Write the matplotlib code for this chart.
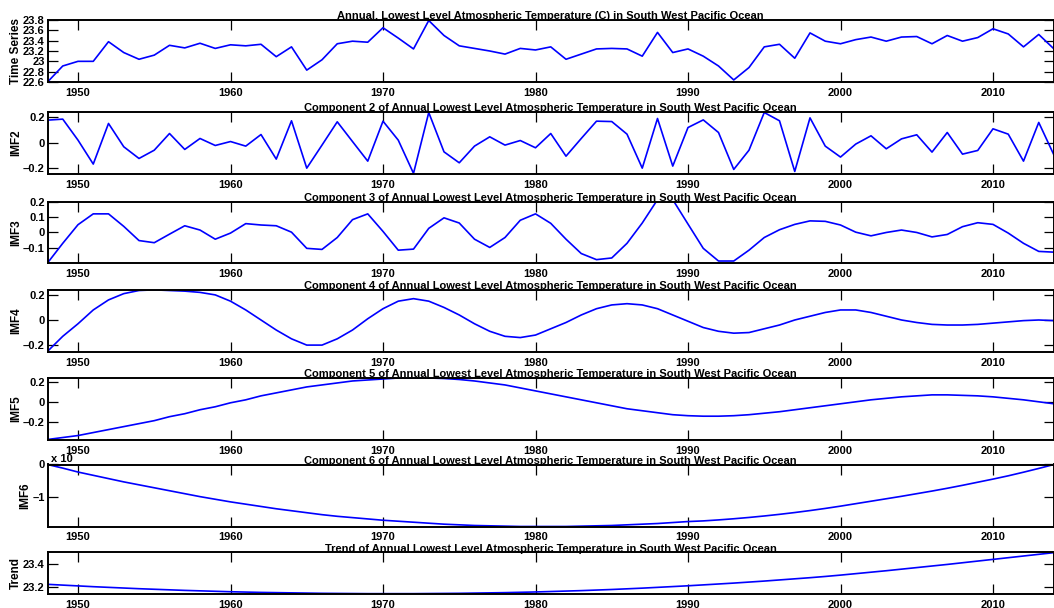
import numpy as np
import matplotlib
matplotlib.use("Agg")
import matplotlib.pyplot as plt
from matplotlib.ticker import FuncFormatter

plt.rcParams["font.family"] = ["Liberation Sans", "DejaVu Sans"]
plt.rcParams["font.weight"] = "bold"

years = list(range(1948, 2015))

temperature = [22.60, 22.91, 23.00, 23.00, 23.38, 23.17, 23.04, 23.12, 23.31, 23.26,
               23.35, 23.25, 23.32, 23.30, 23.33, 23.09, 23.28, 22.83, 23.03, 23.34,
               23.39, 23.37, 23.65, 23.45, 23.24, 23.79, 23.50, 23.30, 23.25, 23.20,
               23.14, 23.25, 23.22, 23.28, 23.04, 23.14, 23.24, 23.25, 23.24, 23.10,
               23.56, 23.17, 23.24, 23.10, 22.91, 22.64, 22.88, 23.28, 23.33, 23.06,
               23.55, 23.39, 23.34, 23.42, 23.47, 23.39, 23.47, 23.48, 23.34, 23.50,
               23.39, 23.46, 23.63, 23.53, 23.28, 23.52, 23.24]

imf2 = [0.178, 0.186, 0.021, -0.167, 0.152, -0.031, -0.123, -0.058, 0.073, -0.052,
        0.034, -0.021, 0.010, -0.026, 0.065, -0.128, 0.173, -0.199, -0.018, 0.165,
        0.010, -0.144, 0.170, 0.021, -0.240, 0.238, -0.071, -0.157, -0.026, 0.047,
        -0.018, 0.018, -0.039, 0.073, -0.105, 0.034, 0.170, 0.167, 0.068, -0.199,
        0.191, -0.183, 0.120, 0.180, 0.081, -0.209, -0.058, 0.238, 0.173, -0.225,
        0.196, -0.026, -0.112, -0.010, 0.055, -0.047, 0.031, 0.063, -0.073, 0.081,
        -0.089, -0.060, 0.110, 0.068, -0.144, 0.160, -0.097]

imf3 = [-0.200, -0.071, 0.051, 0.122, 0.122, 0.040, -0.053, -0.067, -0.011, 0.044,
        0.016, -0.044, -0.004, 0.058, 0.049, 0.044, 0.002, -0.104, -0.111, -0.033,
        0.084, 0.122, 0.007, -0.116, -0.109, 0.027, 0.096, 0.062, -0.044, -0.098,
        -0.033, 0.080, 0.122, 0.060, -0.044, -0.138, -0.178, -0.167, -0.071, 0.062,
        0.215, 0.215, 0.055, -0.104, -0.187, -0.187, -0.116, -0.033, 0.018, 0.053,
        0.076, 0.073, 0.049, 0.002, -0.022, 0.000, 0.016, 0.000, -0.029, -0.013,
        0.038, 0.064, 0.053, -0.004, -0.071, -0.124, -0.129]

imf4 = [-0.250, -0.130, -0.030, 0.080, 0.160, 0.210, 0.235, 0.240, 0.235, 0.230,
        0.220, 0.200, 0.150, 0.080, 0.000, -0.080, -0.150, -0.200, -0.200, -0.150,
        -0.080, 0.010, 0.090, 0.150, 0.170, 0.150, 0.100, 0.040, -0.030, -0.090,
        -0.130, -0.140, -0.120, -0.070, -0.020, 0.040, 0.090, 0.120, 0.130, 0.120,
        0.090, 0.040, -0.010, -0.060, -0.090, -0.105, -0.100, -0.070, -0.040, 0.000,
        0.030, 0.060, 0.080, 0.080, 0.060, 0.030, 0.000, -0.020, -0.035, -0.040,
        -0.040, -0.035, -0.025, -0.015, -0.005, 0.000, -0.005]

imf5 = [-0.380, -0.360, -0.340, -0.310, -0.280, -0.250, -0.220, -0.190, -0.150, -0.120,
        -0.080, -0.050, -0.010, 0.020, 0.060, 0.090, 0.120, 0.150, 0.170, 0.190,
        0.210, 0.220, 0.230, 0.240, 0.240, 0.240, 0.235, 0.225, 0.210, 0.190,
        0.170, 0.140, 0.110, 0.080, 0.050, 0.020, -0.010, -0.040, -0.070, -0.090,
        -0.110, -0.130, -0.140, -0.145, -0.145, -0.140, -0.130, -0.115, -0.100, -0.080,
        -0.060, -0.040, -0.020, 0.000, 0.020, 0.035, 0.050, 0.060, 0.070, 0.070,
        0.065, 0.060, 0.050, 0.035, 0.020, 0.000, -0.020]

imf6 = [0.00, -0.11, -0.23, -0.33, -0.43, -0.53, -0.62, -0.71, -0.80, -0.89,
        -0.98, -1.06, -1.14, -1.21, -1.28, -1.35, -1.41, -1.47, -1.53, -1.58,
        -1.62, -1.66, -1.70, -1.73, -1.76, -1.79, -1.82, -1.84, -1.86, -1.87,
        -1.88, -1.89, -1.89, -1.89, -1.89, -1.88, -1.87, -1.86, -1.84, -1.82,
        -1.80, -1.77, -1.74, -1.72, -1.69, -1.655, -1.615, -1.57, -1.52, -1.465,
        -1.405, -1.34, -1.27, -1.195, -1.12, -1.045, -0.97, -0.89, -0.81, -0.725,
        -0.635, -0.54, -0.445, -0.345, -0.235, -0.12, 0.00]

trend = [23.222, 23.215, 23.208, 23.201, 23.195, 23.189, 23.183, 23.178, 23.173, 23.168,
         23.164, 23.160, 23.156, 23.153, 23.150, 23.148, 23.146, 23.144, 23.142, 23.141,
         23.140, 23.139, 23.139, 23.139, 23.139, 23.140, 23.141, 23.142, 23.144, 23.146,
         23.148, 23.151, 23.154, 23.158, 23.162, 23.166, 23.171, 23.176, 23.182, 23.188,
         23.195, 23.202, 23.209, 23.217, 23.225, 23.233, 23.242, 23.251, 23.261, 23.271,
         23.281, 23.292, 23.304, 23.317, 23.330, 23.343, 23.357, 23.371, 23.385, 23.399,
         23.414, 23.429, 23.444, 23.459, 23.474, 23.489, 23.504]

region = "South West Pacific Ocean"
titles = [
    f"Annual, Lowest Level Atmospheric Temperature (C) in {region}",
    f"Component 2 of Annual Lowest Level Atmospheric Temperature in {region}",
    f"Component 3 of Annual Lowest Level Atmospheric Temperature in {region}",
    f"Component 4 of Annual Lowest Level Atmospheric Temperature in {region}",
    f"Component 5 of Annual Lowest Level Atmospheric Temperature in {region}",
    f"Component 6 of Annual Lowest Level Atmospheric Temperature in {region}",
    f"Trend of Annual Lowest Level Atmospheric Temperature in {region}",
]
ylabels = ["Time Series", "IMF2", "IMF3", "IMF4", "IMF5", "IMF6", "Trend"]
series = [temperature, imf2, imf3, imf4, imf5, imf6, trend]
ylims = [(22.6, 23.8), (-0.245, 0.242), (-0.2, 0.203), (-0.255, 0.243),
         (-0.385, 0.24), (-1.9, 0.0), (23.135, 23.507)]
yticks = [[22.6, 22.8, 23.0, 23.2, 23.4, 23.6, 23.8], [-0.2, 0, 0.2],
          [-0.1, 0, 0.1, 0.2], [-0.2, 0, 0.2], [-0.2, 0, 0.2], [-1, 0], [23.2, 23.4]]
xticks = [1950, 1960, 1970, 1980, 1990, 2000, 2010]

W, H = 1054, 608
fig = plt.figure(figsize=(W / 100, H / 100), dpi=100, facecolor="white")

# panel geometry in pixels: (top, height)
geom = [(20, 62), (112, 62), (201.5, 61.5), (289.5, 62.5), (378, 62), (464.5, 62.3), (552.3, 41.8)]
left_px, width_px = 47.5, 1006.5

fmt = FuncFormatter(lambda v, p: ("%g" % v).replace("-", "\u2013"))

for i, (top, hgt) in enumerate(geom):
    ax = fig.add_axes([left_px / W, 1 - (top + hgt) / H, width_px / W, hgt / H])
    ax.plot(years, series[i], color="#0000ff", lw=1.2, clip_on=True)
    ax.set_xlim(1948, 2014)
    ax.set_ylim(*ylims[i])
    ax.set_xticks(xticks)
    ax.set_yticks(yticks[i])
    ax.yaxis.set_major_formatter(fmt)
    ax.tick_params(direction="in", length=7, width=0.9, top=True, right=True,
                   labelsize=8.0, colors="black")
    ax.tick_params(axis="x", pad=4)
    ax.tick_params(axis="y", pad=2)
    for s in ax.spines.values():
        s.set_linewidth(1.4)
    ax.set_title(titles[i], fontsize=8.0, fontweight="bold", pad=0.5)
    ax.set_ylabel(ylabels[i], fontsize=8.5, fontweight="bold", labelpad=0.5)
    if i == 5:
        ax.text(0.003, 1.01, "x 10", transform=ax.transAxes, fontsize=8.0,
                fontweight="bold", ha="left", va="bottom")

fig.savefig("out.png", dpi=100, facecolor="white")
